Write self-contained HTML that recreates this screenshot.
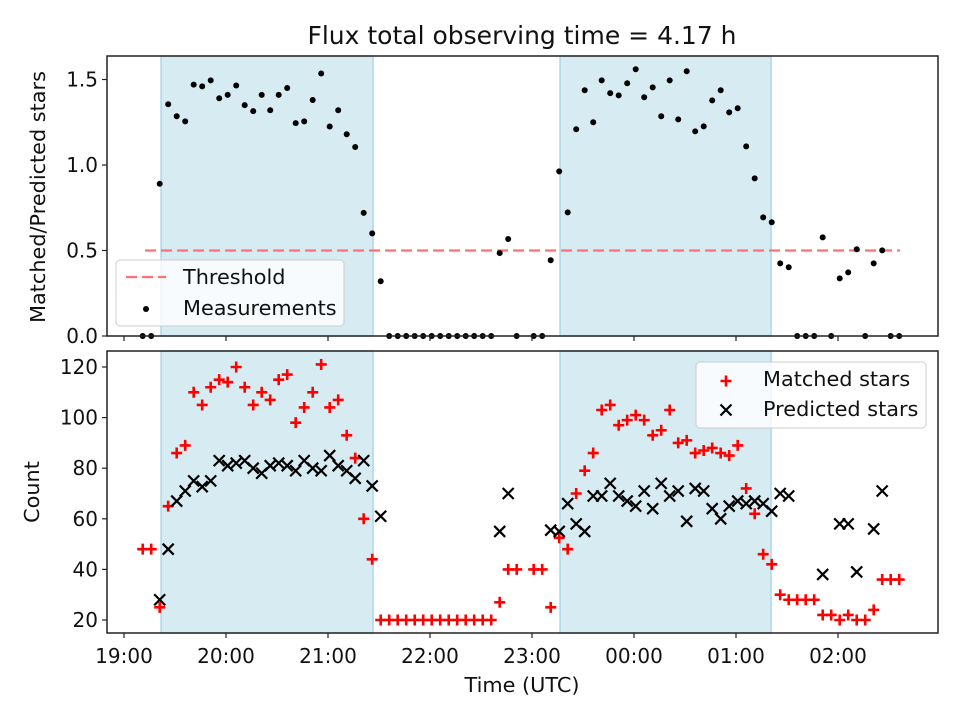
<!DOCTYPE html>
<html><head><meta charset="utf-8"><style>
body{margin:0;background:#fff;}
svg{display:block;font-family:"DejaVu Sans","Liberation Sans",sans-serif;}
</style></head><body>
<svg id="fig" width="960" height="720" viewBox="0 0 960 720"></svg>
<script>
// ---- data (index i -> minutes since 19:00 = 11 + 5*i) ----
const startMin = 11;
const stepMin = 5;
const ratio = [0,0,0.89,1.355,1.285,1.255,1.47,1.46,1.495,1.39,1.41,1.465,1.35,1.315,1.41,1.32,1.41,1.45,1.245,1.255,1.38,1.535,1.225,1.32,1.18,1.105,0.72,0.60,0.32,0,0,0,0,0,0,0,0,0,0,0,0,0,0.485,0.567,0,null,0,0,0.443,0.963,0.723,1.209,1.437,1.25,1.495,1.42,1.407,1.478,1.56,1.396,1.454,1.285,1.495,1.267,1.548,1.197,1.226,1.378,1.437,1.308,1.332,1.109,0.922,0.694,0.665,0.425,0.402,0,0,0,0.577,0,0.337,0.372,0.507,0,0.425,0.501,0,0];
const matched = [48,48,25,65,86,89,110,105,112,115,114,120,112,105,110,107,115,117,98,104,110,121,104,107,93,84,60,44,20,20,20,20,20,20,20,20,20,20,20,20,20,20,27,40,40,null,40,40,25,52.5,48,70,79,86,103,105,97,99,101,99,93,95,103,90,91,86,87,88,86,85,89,72,62,46,42,30,28,28,28,28,22,22,20,22,20,20,24,36,36,36];
const predicted = [null,null,28,48,67,71,75,72.7,75,83,81,82,83,80,78,81,82,81,79,83,80,79,85,81,79,76,83,73,61,null,null,null,null,null,null,null,null,null,null,null,null,null,55,70,null,null,null,null,55.5,55,66,58,55,69,69,74,69,67,65,71,64,74,69,71,59,72,71,64,60,65,67,66,67,66,63,70,69,null,null,null,38,null,58,58,39,null,56,71,null,null];
const threshold = 0.5;
const thresholdRange = [12.4, 456.5];
const spans = [[21.8,146.5],[256.5,380.6]];
const xTickLabels = ["19:00","20:00","21:00","22:00","23:00","00:00","01:00","02:00"];
const topTicks = [0,0.5,1.0,1.5];
const botTicks = [20,40,60,80,100,120];

const NS="http://www.w3.org/2000/svg";
const svg=document.getElementById('fig');
function el(tag,attrs,parent,text){const e=document.createElementNS(NS,tag);for(const k in attrs)e.setAttribute(k,attrs[k]);if(text!==undefined)e.textContent=text;(parent||svg).appendChild(e);return e;}

const AX={x0:107,x1:938};
const xs=m=>124+102*m/60;
const topA={y0:56,y1:336}; const ys1=v=>336-v*171;
const botA={y0:351,y1:633}; const ys2=v=>620-(v-20)*2.53;

function panel(A,name){
  const g=el('g',{});
  
  
  spans.forEach((s,k)=>{
    const r=el('rect',{x:xs(s[0]),y:A.y0,width:xs(s[1])-xs(s[0]),height:A.y1-A.y0,fill:'#add8e6','fill-opacity':0.5,stroke:'#add8e6','stroke-width':1.5},g);
    
    
  });
  return g;
}
function frame(A,g){
  el('rect',{x:AX.x0,y:A.y0,width:AX.x1-AX.x0,height:A.y1-A.y0,fill:'none',stroke:'#222','stroke-width':1.5},g);
  xTickLabels.forEach((t,k)=>{const x=xs(k*60);el('line',{x1:x,x2:x,y1:A.y1,y2:A.y1+5,stroke:'#222','stroke-width':1.2},g);});
}
function yticks(A,ticks,ys,g,fmt){
  ticks.forEach(v=>{const y=ys(v);el('line',{x1:AX.x0-5,x2:AX.x0,y1:y,y2:y,stroke:'#222','stroke-width':1.2},g);
    const t=el('text',{x:AX.x0-9,y:y+7,'text-anchor':'end','font-size':20,fill:'#111'},g,fmt(v));
    });
}

// title
const title=el('text',{x:522,y:44,'text-anchor':'middle','font-size':25,fill:'#111'},svg,'Flux total observing time = 4.17 h');


// ---- top panel ----
const gt=panel(topA,'ratio-panel');
const th=el('line',{x1:xs(thresholdRange[0]),x2:xs(thresholdRange[1]),y1:ys1(threshold),y2:ys1(threshold),stroke:'#ff7070','stroke-width':2.2,'stroke-dasharray':'11 5'},gt);

ratio.forEach((v,i)=>{if(v===null)return;const c=el('circle',{cx:xs(startMin+stepMin*i),cy:ys1(v),r:3,fill:'#000'},gt);
  });
frame(topA,gt);
yticks(topA,topTicks,ys1,gt,v=>v.toFixed(1));
const yl1=el('text',{x:0,y:0,transform:'translate(45,197) rotate(-90)','text-anchor':'middle','font-size':20.8,fill:'#111'},svg,'Matched/Predicted stars');

// legend top
const lg1=el('g',{});
el('rect',{x:116,y:260,width:228,height:66,rx:4,fill:'#fff','fill-opacity':0.8,stroke:'#ccc','stroke-width':1},lg1);
el('line',{x1:126,x2:166,y1:277,y2:277,stroke:'#ff7070','stroke-width':2.2,'stroke-dasharray':'11 5'},lg1);
el('text',{x:183,y:284,'font-size':20.8,fill:'#111'},lg1,'Threshold');
el('circle',{cx:146,cy:309,r:3,fill:'#000'},lg1);
el('text',{x:183,y:315,'font-size':20.8,fill:'#111'},lg1,'Measurements');

// ---- bottom panel ----
const gb=panel(botA,'count-panel');
function plus(x,y,g){const p=el('path',{d:`M${x-5.5},${y}H${x+5.5}M${x},${y-5.5}V${y+5.5}`,stroke:'#ff0000','stroke-width':2.6},g);return p;}
function cross(x,y,g){return el('path',{d:`M${x-5.5},${y-5.5}L${x+5.5},${y+5.5}M${x-5.5},${y+5.5}L${x+5.5},${y-5.5}`,stroke:'#000','stroke-width':2.2},g);}
matched.forEach((v,i)=>{if(v===null)return;const p=plus(xs(startMin+stepMin*i),ys2(v),gb);
  });
predicted.forEach((v,i)=>{if(v===null)return;const p=cross(xs(startMin+stepMin*i),ys2(v),gb);
  });
frame(botA,gb);
yticks(botA,botTicks,ys2,gb,v=>String(v));
xTickLabels.forEach((t,k)=>{const e=el('text',{x:xs(k*60),y:663,'text-anchor':'middle','font-size':20,fill:'#111'},svg,t);
  });
const yl2=el('text',{x:0,y:0,transform:'translate(39,492) rotate(-90)','text-anchor':'middle','font-size':20.8,fill:'#111'},svg,'Count');

const xl=el('text',{x:522,y:692,'text-anchor':'middle','font-size':20.8,fill:'#111'},svg,'Time (UTC)');

// legend bottom
const lg2=el('g',{});
el('rect',{x:696,y:362,width:230,height:66,rx:4,fill:'#fff','fill-opacity':0.8,stroke:'#ccc','stroke-width':1},lg2);
plus(726,381,lg2);
el('text',{x:763,y:386,'font-size':20.8,fill:'#111'},lg2,'Matched stars');
cross(726,410,lg2);
el('text',{x:763,y:416,'font-size':20.8,fill:'#111'},lg2,'Predicted stars');
</script>
</body></html>
